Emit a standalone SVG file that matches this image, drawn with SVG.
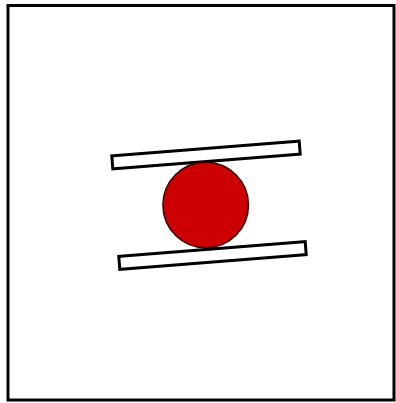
<svg xmlns="http://www.w3.org/2000/svg" width="396" height="403" viewBox="0 0 396 403">
<style>
.frame{fill:#fff;stroke:#000;stroke-width:3}
.bar{fill:#fff;stroke:#000;stroke-width:3}
.ball{fill:#cc0000;stroke:#300;stroke-width:1.5}
</style>
<rect width="396" height="403" fill="#fff"/>
<rect class="frame" x="8" y="5.5" width="386" height="394.5"/>
<g id="top-plate">
<rect class="bar" x="-94" y="-6.5" width="188" height="13" transform="translate(206,155) rotate(-4.56)"/>
</g>
<g id="ball">
<circle class="ball" cx="205.7" cy="205" r="42.8"/>
</g>
<g id="bottom-plate">
<rect class="bar" x="-93.5" y="-6.5" width="187" height="13" transform="translate(212.5,255.5) rotate(-4.56)"/>
</g>
<g id="connectors"/>
</svg>
